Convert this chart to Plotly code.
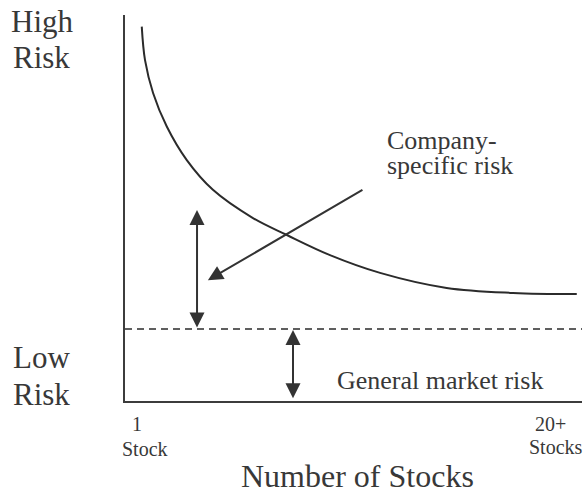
import plotly.graph_objects as go

# ---- data ----
stocks = [0.77, 0.92, 1.29, 1.92, 2.84, 4.04, 5.88, 7.44, 9.42, 11.72, 14.78, 17.83, 20.76]
total_risk = [9.70, 8.83, 7.98, 7.11, 6.24, 5.47, 4.74, 4.30, 3.78, 3.32, 2.93, 2.80, 2.77]
market_risk_level = 1.865
market_line_x = [0, 21]

# arrows: [x_tail, y_tail, x_head, y_head]
specific_span = [3.31, 1.865, 3.31, 4.95]
market_span = [7.72, 0.03, 7.72, 1.84]
pointer = [10.98, 5.49, 3.81, 3.13]

W, H = 586, 494
ML, MR, MT, MB = 125, 4, 15, 93
PW, PH = W - ML - MR, H - MT - MB

INK = "#383838"
FONT = "Liberation Serif, Times New Roman, serif"

fig = go.Figure()
fig.add_trace(go.Scatter(x=stocks, y=total_risk, mode="lines",
                         line=dict(color="#2b2b2b", width=2, shape="spline", smoothing=1),
                         hoverinfo="skip", showlegend=False))
fig.add_trace(go.Scatter(x=market_line_x, y=[market_risk_level] * 2, mode="lines",
                         line=dict(color="#2b2b2b", width=1.6, dash="7px,5px"),
                         hoverinfo="skip", showlegend=False))


def arrow(spec, both):
    xt, yt, xh, yh = spec
    d = dict(x=xh, y=yh, ax=xt, ay=yt, xref="x", yref="y", axref="x", ayref="y",
             text="", showarrow=True, arrowhead=2, arrowsize=1.5, arrowwidth=2,
             arrowcolor="#333333", standoff=0, startstandoff=0)
    if both:
        d.update(arrowside="end+start", startarrowhead=2, startarrowsize=1.5)
    fig.add_annotation(**d)


arrow(specific_span, True)
arrow(market_span, True)
arrow(pointer, False)


def label(text, px, py, size, xanchor="left"):
    fig.add_annotation(x=(px - ML) / PW, y=(H - MB - py) / PH, xref="paper", yref="paper",
                       text=text, showarrow=False, xanchor=xanchor, yanchor="middle",
                       borderpad=0,
                       font=dict(family=FONT, size=size, color=INK))


label("High", 10, 21.5, 31)
label("Risk", 12, 57.5, 31)
label("Low", 12, 357.5, 31)
label("Risk", 12, 394, 31)
label("Company-", 386, 140, 26)
label("specific risk", 386, 166, 26)
label("General market risk", 336, 380, 26)
label("1", 137, 424, 20, "center")
label("Stock", 145, 448.5, 20, "center")
label("20+", 550, 423.5, 20, "center")
label("Stocks", 556, 446.5, 20, "center")
label("Number of Stocks", 357.5, 476, 32, "center")

fig.update_xaxes(range=[0, 21], showline=True, linecolor="#3c3c3c", linewidth=2,
                 showgrid=False, zeroline=False, showticklabels=False, ticks="")
fig.update_yaxes(range=[0, 10], showline=True, linecolor="#3c3c3c", linewidth=2,
                 showgrid=False, zeroline=False, showticklabels=False, ticks="")
fig.update_layout(width=W, height=H, margin=dict(l=ML, r=MR, t=MT, b=MB),
                  paper_bgcolor="white", plot_bgcolor="white")

fig.write_html("out.html", config={"displayModeBar": False},
               post_script="document.body.style.margin='0px';document.body.style.overflow='hidden';")
